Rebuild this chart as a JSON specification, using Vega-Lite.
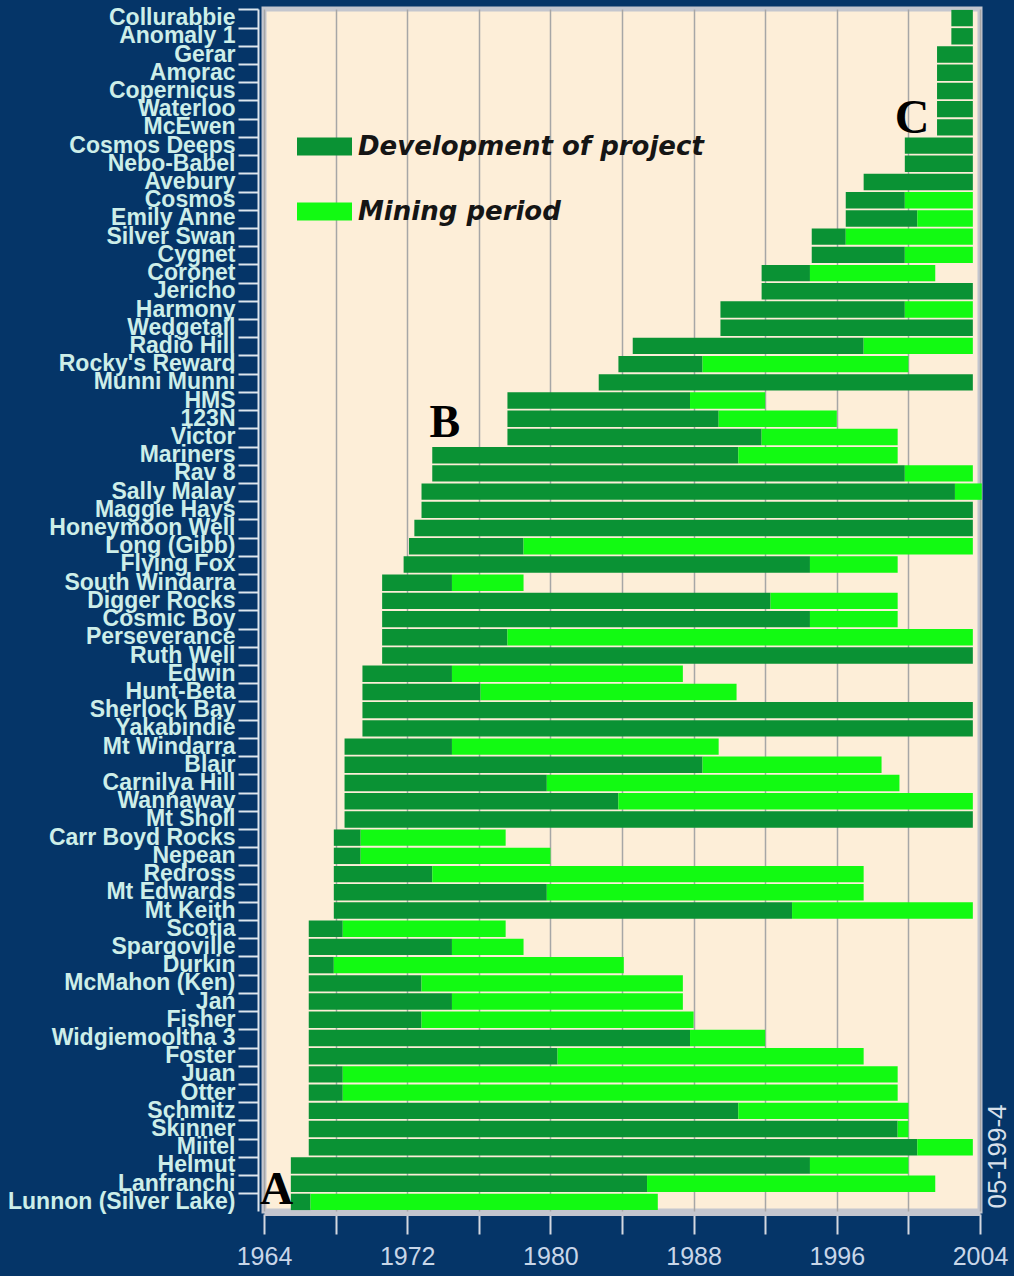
{
  "$schema": "https://vega.github.io/schema/vega-lite/v6.json",
  "width": 716,
  "height": 1202,
  "autosize": {"type": "none"},
  "padding": {"left": 264, "top": 9, "right": 34, "bottom": 65},
  "background": "#053568",
  "config": {
    "view": {"fill": "#fdeed8", "stroke": "#c4c6ce", "strokeWidth": 5},
    "font": "Liberation Sans"
  },
  "datasets": {
    "bars": [
      {"n": "Collurabbie", "p": "dev", "s": 2002.4, "e": 2003.6},
      {"n": "Anomaly 1", "p": "dev", "s": 2002.4, "e": 2003.6},
      {"n": "Gerar", "p": "dev", "s": 2001.6, "e": 2003.6},
      {"n": "Amorac", "p": "dev", "s": 2001.6, "e": 2003.6},
      {"n": "Copernicus", "p": "dev", "s": 2001.6, "e": 2003.6},
      {"n": "Waterloo", "p": "dev", "s": 2001.6, "e": 2003.6},
      {"n": "McEwen", "p": "dev", "s": 2001.6, "e": 2003.6},
      {"n": "Cosmos Deeps", "p": "dev", "s": 1999.8, "e": 2003.6},
      {"n": "Nebo-Babel", "p": "dev", "s": 1999.8, "e": 2003.6},
      {"n": "Avebury", "p": "dev", "s": 1997.5, "e": 2003.6},
      {"n": "Cosmos", "p": "dev", "s": 1996.5, "e": 1999.8},
      {"n": "Cosmos", "p": "mine", "s": 1999.8, "e": 2003.6},
      {"n": "Emily Anne", "p": "dev", "s": 1996.5, "e": 2000.5},
      {"n": "Emily Anne", "p": "mine", "s": 2000.5, "e": 2003.6},
      {"n": "Silver Swan", "p": "dev", "s": 1994.6, "e": 1996.5},
      {"n": "Silver Swan", "p": "mine", "s": 1996.5, "e": 2003.6},
      {"n": "Cygnet", "p": "dev", "s": 1994.6, "e": 1999.8},
      {"n": "Cygnet", "p": "mine", "s": 1999.8, "e": 2003.6},
      {"n": "Coronet", "p": "dev", "s": 1991.8, "e": 1994.5},
      {"n": "Coronet", "p": "mine", "s": 1994.5, "e": 2001.5},
      {"n": "Jericho", "p": "dev", "s": 1991.8, "e": 2003.6},
      {"n": "Harmony", "p": "dev", "s": 1989.5, "e": 1999.8},
      {"n": "Harmony", "p": "mine", "s": 1999.8, "e": 2003.6},
      {"n": "Wedgetail", "p": "dev", "s": 1989.5, "e": 2003.6},
      {"n": "Radio Hill", "p": "dev", "s": 1984.6, "e": 1997.5},
      {"n": "Radio Hill", "p": "mine", "s": 1997.5, "e": 2003.6},
      {"n": "Rocky's Reward", "p": "dev", "s": 1983.8, "e": 1988.5},
      {"n": "Rocky's Reward", "p": "mine", "s": 1988.5, "e": 2000.0},
      {"n": "Munni Munni", "p": "dev", "s": 1982.7, "e": 2003.6},
      {"n": "HMS", "p": "dev", "s": 1977.6, "e": 1987.8},
      {"n": "HMS", "p": "mine", "s": 1987.8, "e": 1992.0},
      {"n": "123N", "p": "dev", "s": 1977.6, "e": 1989.4},
      {"n": "123N", "p": "mine", "s": 1989.4, "e": 1996.0},
      {"n": "Victor", "p": "dev", "s": 1977.6, "e": 1991.8},
      {"n": "Victor", "p": "mine", "s": 1991.8, "e": 1999.4},
      {"n": "Mariners", "p": "dev", "s": 1973.4, "e": 1990.5},
      {"n": "Mariners", "p": "mine", "s": 1990.5, "e": 1999.4},
      {"n": "Rav 8", "p": "dev", "s": 1973.4, "e": 1999.8},
      {"n": "Rav 8", "p": "mine", "s": 1999.8, "e": 2003.6},
      {"n": "Sally Malay", "p": "dev", "s": 1972.8, "e": 2002.6},
      {"n": "Sally Malay", "p": "mine", "s": 2002.6, "e": 2004.1},
      {"n": "Maggie Hays", "p": "dev", "s": 1972.8, "e": 2003.6},
      {"n": "Honeymoon Well", "p": "dev", "s": 1972.4, "e": 2003.6},
      {"n": "Long (Gibb)", "p": "dev", "s": 1972.1, "e": 1978.5},
      {"n": "Long (Gibb)", "p": "mine", "s": 1978.5, "e": 2003.6},
      {"n": "Flying Fox", "p": "dev", "s": 1971.8, "e": 1994.5},
      {"n": "Flying Fox", "p": "mine", "s": 1994.5, "e": 1999.4},
      {"n": "South Windarra", "p": "dev", "s": 1970.6, "e": 1974.5},
      {"n": "South Windarra", "p": "mine", "s": 1974.5, "e": 1978.5},
      {"n": "Digger Rocks", "p": "dev", "s": 1970.6, "e": 1992.3},
      {"n": "Digger Rocks", "p": "mine", "s": 1992.3, "e": 1999.4},
      {"n": "Cosmic Boy", "p": "dev", "s": 1970.6, "e": 1994.5},
      {"n": "Cosmic Boy", "p": "mine", "s": 1994.5, "e": 1999.4},
      {"n": "Perseverance", "p": "dev", "s": 1970.6, "e": 1977.6},
      {"n": "Perseverance", "p": "mine", "s": 1977.6, "e": 2003.6},
      {"n": "Ruth Well", "p": "dev", "s": 1970.6, "e": 2003.6},
      {"n": "Edwin", "p": "dev", "s": 1969.5, "e": 1974.5},
      {"n": "Edwin", "p": "mine", "s": 1974.5, "e": 1987.4},
      {"n": "Hunt-Beta", "p": "dev", "s": 1969.5, "e": 1976.1},
      {"n": "Hunt-Beta", "p": "mine", "s": 1976.1, "e": 1990.4},
      {"n": "Sherlock Bay", "p": "dev", "s": 1969.5, "e": 2003.6},
      {"n": "Yakabindie", "p": "dev", "s": 1969.5, "e": 2003.6},
      {"n": "Mt Windarra", "p": "dev", "s": 1968.5, "e": 1974.5},
      {"n": "Mt Windarra", "p": "mine", "s": 1974.5, "e": 1989.4},
      {"n": "Blair", "p": "dev", "s": 1968.5, "e": 1988.5},
      {"n": "Blair", "p": "mine", "s": 1988.5, "e": 1998.5},
      {"n": "Carnilya Hill", "p": "dev", "s": 1968.5, "e": 1979.8},
      {"n": "Carnilya Hill", "p": "mine", "s": 1979.8, "e": 1999.5},
      {"n": "Wannaway", "p": "dev", "s": 1968.5, "e": 1983.8},
      {"n": "Wannaway", "p": "mine", "s": 1983.8, "e": 2003.6},
      {"n": "Mt Sholl", "p": "dev", "s": 1968.5, "e": 2003.6},
      {"n": "Carr Boyd Rocks", "p": "dev", "s": 1967.9, "e": 1969.4},
      {"n": "Carr Boyd Rocks", "p": "mine", "s": 1969.4, "e": 1977.5},
      {"n": "Nepean", "p": "dev", "s": 1967.9, "e": 1969.4},
      {"n": "Nepean", "p": "mine", "s": 1969.4, "e": 1980.0},
      {"n": "Redross", "p": "dev", "s": 1967.9, "e": 1973.4},
      {"n": "Redross", "p": "mine", "s": 1973.4, "e": 1997.5},
      {"n": "Mt Edwards", "p": "dev", "s": 1967.9, "e": 1979.8},
      {"n": "Mt Edwards", "p": "mine", "s": 1979.8, "e": 1997.5},
      {"n": "Mt Keith", "p": "dev", "s": 1967.9, "e": 1993.5},
      {"n": "Mt Keith", "p": "mine", "s": 1993.5, "e": 2003.6},
      {"n": "Scotia", "p": "dev", "s": 1966.5, "e": 1968.4},
      {"n": "Scotia", "p": "mine", "s": 1968.4, "e": 1977.5},
      {"n": "Spargoville", "p": "dev", "s": 1966.5, "e": 1974.5},
      {"n": "Spargoville", "p": "mine", "s": 1974.5, "e": 1978.5},
      {"n": "Durkin", "p": "dev", "s": 1966.5, "e": 1967.9},
      {"n": "Durkin", "p": "mine", "s": 1967.9, "e": 1984.1},
      {"n": "McMahon (Ken)", "p": "dev", "s": 1966.5, "e": 1972.8},
      {"n": "McMahon (Ken)", "p": "mine", "s": 1972.8, "e": 1987.4},
      {"n": "Jan", "p": "dev", "s": 1966.5, "e": 1974.5},
      {"n": "Jan", "p": "mine", "s": 1974.5, "e": 1987.4},
      {"n": "Fisher", "p": "dev", "s": 1966.5, "e": 1972.8},
      {"n": "Fisher", "p": "mine", "s": 1972.8, "e": 1988.0},
      {"n": "Widgiemooltha 3", "p": "dev", "s": 1966.5, "e": 1987.8},
      {"n": "Widgiemooltha 3", "p": "mine", "s": 1987.8, "e": 1992.0},
      {"n": "Foster", "p": "dev", "s": 1966.5, "e": 1980.4},
      {"n": "Foster", "p": "mine", "s": 1980.4, "e": 1997.5},
      {"n": "Juan", "p": "dev", "s": 1966.5, "e": 1968.4},
      {"n": "Juan", "p": "mine", "s": 1968.4, "e": 1999.4},
      {"n": "Otter", "p": "dev", "s": 1966.5, "e": 1968.4},
      {"n": "Otter", "p": "mine", "s": 1968.4, "e": 1999.4},
      {"n": "Schmitz", "p": "dev", "s": 1966.5, "e": 1990.5},
      {"n": "Schmitz", "p": "mine", "s": 1990.5, "e": 2000.0},
      {"n": "Skinner", "p": "dev", "s": 1966.5, "e": 1999.4},
      {"n": "Skinner", "p": "mine", "s": 1999.4, "e": 2000.0},
      {"n": "Miitel", "p": "dev", "s": 1966.5, "e": 2000.5},
      {"n": "Miitel", "p": "mine", "s": 2000.5, "e": 2003.6},
      {"n": "Helmut", "p": "dev", "s": 1965.5, "e": 1994.5},
      {"n": "Helmut", "p": "mine", "s": 1994.5, "e": 2000.0},
      {"n": "Lanfranchi", "p": "dev", "s": 1965.5, "e": 1985.4},
      {"n": "Lanfranchi", "p": "mine", "s": 1985.4, "e": 2001.5},
      {"n": "Lunnon (Silver Lake)", "p": "dev", "s": 1965.5, "e": 1966.6},
      {"n": "Lunnon (Silver Lake)", "p": "mine", "s": 1966.6, "e": 1986.0}
    ]
  },
  "encoding": {
    "y": {
      "field": "n",
      "type": "nominal",
      "sort": ["Collurabbie", "Anomaly 1", "Gerar", "Amorac", "Copernicus", "Waterloo", "McEwen", "Cosmos Deeps", "Nebo-Babel", "Avebury", "Cosmos", "Emily Anne", "Silver Swan", "Cygnet", "Coronet", "Jericho", "Harmony", "Wedgetail", "Radio Hill", "Rocky's Reward", "Munni Munni", "HMS", "123N", "Victor", "Mariners", "Rav 8", "Sally Malay", "Maggie Hays", "Honeymoon Well", "Long (Gibb)", "Flying Fox", "South Windarra", "Digger Rocks", "Cosmic Boy", "Perseverance", "Ruth Well", "Edwin", "Hunt-Beta", "Sherlock Bay", "Yakabindie", "Mt Windarra", "Blair", "Carnilya Hill", "Wannaway", "Mt Sholl", "Carr Boyd Rocks", "Nepean", "Redross", "Mt Edwards", "Mt Keith", "Scotia", "Spargoville", "Durkin", "McMahon (Ken)", "Jan", "Fisher", "Widgiemooltha 3", "Foster", "Juan", "Otter", "Schmitz", "Skinner", "Miitel", "Helmut", "Lanfranchi", "Lunnon (Silver Lake)"],
      "scale": {"paddingInner": 0.1, "paddingOuter": 0.05},
      "axis": {
        "title": null,
        "offset": 6,
        "tickSize": 20,
        "tickWidth": 2,
        "tickColor": "#dde6ee",
        "domainColor": "#dde6ee",
        "domainWidth": 2,
        "bandPosition": 0,
        "labelPadding": 3,
        "labelFont": "Liberation Sans",
        "labelFontSize": 23,
        "labelFontWeight": "bold",
        "labelColor": "#cdeee9",
        "labelOverlap": false,
        "labelBound": false,
        "labelLimit": 0
      }
    },
    "x": {
      "field": "s",
      "type": "quantitative",
      "scale": {"domain": [1964, 2004], "nice": false, "zero": false},
      "axis": {
        "title": null,
        "values": [1964, 1968, 1972, 1976, 1980, 1984, 1988, 1992, 1996, 2000, 2004],
        "format": "d",
        "labelExpr": "datum.value % 8 == 4 ? datum.label : ''",
        "grid": true,
        "gridColor": "#a6a6a6",
        "gridWidth": 1.5,
        "offset": 3,
        "tickSize": 20,
        "tickWidth": 2,
        "tickColor": "#d4d8e0",
        "domainColor": "#c4c6ce",
        "domainWidth": 3,
        "labelFont": "Liberation Sans",
        "labelFontSize": 25,
        "labelColor": "#c8d6e8",
        "labelPadding": 10,
        "labelFlush": false
      }
    }
  },
  "layer": [
    {
      "data": {"name": "bars"},
      "mark": {"type": "bar"},
      "encoding": {
        "x2": {"field": "e"},
        "color": {
          "field": "p",
          "type": "nominal",
          "scale": {"domain": ["dev", "mine"], "range": ["#0a9234", "#12fa12"]},
          "legend": {
            "title": null,
            "orient": "none",
            "legendX": 33,
            "legendY": 110,
            "padding": 0,
            "symbolType": "M-1,-0.33H1V0.33H-1Z",
            "symbolSize": 3025,
            "symbolStrokeWidth": 0,
            "symbolOpacity": 1,
            "labelExpr": "datum.label == 'dev' ? 'Development of project' : 'Mining period'",
            "labelFont": "DejaVu Sans",
            "labelFontSize": 26,
            "labelFontWeight": "bold",
            "labelFontStyle": "italic",
            "labelColor": "#151515",
            "labelOffset": 6,
            "labelLimit": 0,
            "rowPadding": 24
          }
        }
      }
    },
    {
      "data": {"values": [{"t": "A", "s": 1964.7, "n": "Lunnon (Silver Lake)"}]},
      "mark": {"type": "text", "font": "Liberation Serif", "fontWeight": "bold", "fontSize": 46, "color": "#000000", "align": "center", "baseline": "alphabetic", "dy": 2},
      "encoding": {"text": {"field": "t"}}
    },
    {
      "data": {"values": [{"t": "B", "s": 1974.1, "n": "Victor"}]},
      "mark": {"type": "text", "font": "Liberation Serif", "fontWeight": "bold", "fontSize": 46, "color": "#000000", "align": "center", "baseline": "alphabetic", "dy": 0},
      "encoding": {"text": {"field": "t"}}
    },
    {
      "data": {"values": [{"t": "C", "s": 2000.2, "n": "McEwen"}]},
      "mark": {"type": "text", "font": "Liberation Serif", "fontWeight": "bold", "fontSize": 48, "color": "#000000", "align": "center", "baseline": "alphabetic", "dy": 6},
      "encoding": {"text": {"field": "t"}}
    },
    {
      "data": {"values": [{"t": "05-199-4", "s": 2005.0, "n": "Helmut"}]},
      "mark": {"type": "text", "font": "Liberation Sans", "fontSize": 26, "color": "#d8e0ea", "align": "center", "baseline": "middle", "angle": 270, "dx": 9},
      "encoding": {"text": {"field": "t"}}
    }
  ]
}
